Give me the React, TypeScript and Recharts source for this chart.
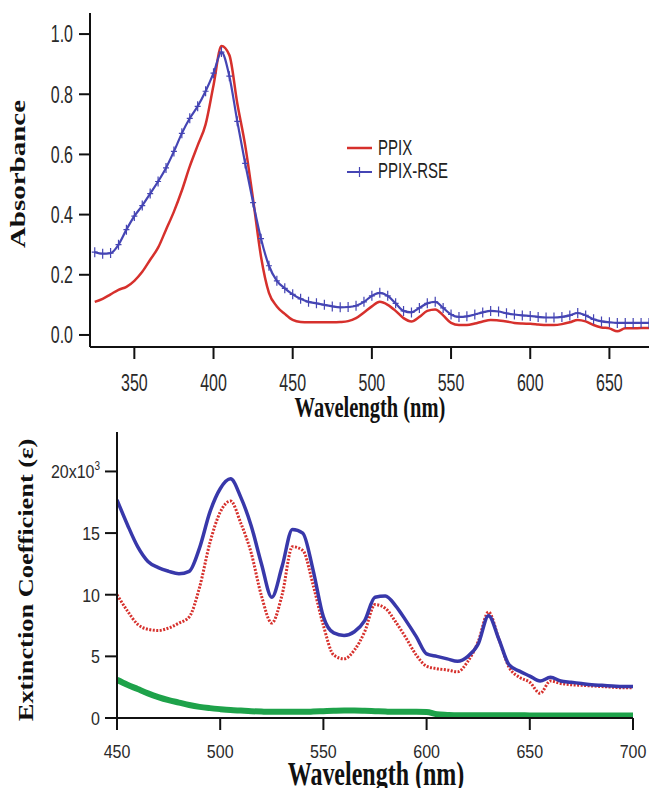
import { LineChart, Line, XAxis, YAxis, Legend, Label } from "recharts";

// top panel: absorbance spectra
const topWavelengths = [
  325, 330, 335, 340, 345, 350, 355, 360, 365, 370, 375, 380, 385, 390, 395, 400,
  405, 410, 415, 420, 425, 430, 435, 440, 445, 450, 455, 460, 465, 470, 475, 480,
  485, 490, 495, 500, 505, 510, 515, 520, 525, 530, 535, 540, 545, 550, 555, 560,
  565, 570, 575, 580, 585, 590, 595, 600, 605, 610, 615, 620, 625, 630, 635, 640,
  645, 650, 655, 660, 665, 670, 675,
];
const ppixAbs = [
  0.11, 0.12, 0.135, 0.15, 0.16, 0.18, 0.21, 0.25, 0.29, 0.35, 0.41, 0.48, 0.56, 0.63, 0.7, 0.83,
  0.96, 0.93, 0.77, 0.63, 0.45, 0.26, 0.14, 0.095, 0.07, 0.05, 0.043, 0.042, 0.042, 0.042, 0.042, 0.043,
  0.046, 0.056, 0.075, 0.095, 0.11, 0.1, 0.08, 0.056, 0.045, 0.06, 0.08, 0.085, 0.065, 0.04, 0.033, 0.033,
  0.038, 0.045, 0.05, 0.048, 0.045, 0.04, 0.038, 0.037, 0.035, 0.033, 0.033, 0.036, 0.042, 0.05, 0.045, 0.033,
  0.025, 0.022, 0.012, 0.022, 0.022, 0.023, 0.023,
];
const ppixRseAbs = [
  0.275, 0.27, 0.272, 0.3, 0.35, 0.395, 0.43, 0.47, 0.51, 0.555, 0.61, 0.67, 0.72, 0.76, 0.81, 0.87,
  0.94, 0.86, 0.71, 0.57, 0.44, 0.32, 0.23, 0.18, 0.155, 0.135, 0.12, 0.11, 0.105, 0.1, 0.095, 0.092,
  0.093, 0.097, 0.11, 0.13, 0.14, 0.13, 0.105, 0.08, 0.075, 0.09, 0.105, 0.11, 0.09, 0.068, 0.06, 0.062,
  0.068, 0.075, 0.08, 0.078, 0.072, 0.068, 0.065, 0.063, 0.06, 0.058, 0.058, 0.06, 0.065, 0.073, 0.065, 0.052,
  0.045, 0.042, 0.04, 0.04, 0.04, 0.04, 0.04,
];
const topXTicks = [350, 400, 450, 500, 550, 600, 650];
const topYTicks = [0, 0.2, 0.4, 0.6, 0.8, 1.0];

// bottom panel: extinction coefficient (x10^3)
const bottomWavelengths = [
  450, 455, 460, 465, 470, 475, 480, 485, 490, 495, 500, 505, 510, 515, 520, 525,
  530, 535, 540, 545, 550, 555, 560, 565, 570, 575, 580, 585, 590, 595, 600, 605,
  610, 615, 620, 625, 630, 635, 640, 645, 650, 655, 660, 665, 670, 675, 680, 685,
  690, 695, 700,
];
const rseComplexEps = [
  17.7, 15.7, 13.9, 12.7, 12.2, 11.9, 11.7, 11.9, 13.8, 16.7, 18.6, 19.4, 17.9, 15.6, 12.5, 9.8,
  12.3, 15.3, 15.0, 12.0, 8.2, 6.9, 6.7, 7.0, 7.9, 9.8, 9.9, 9.1, 7.9, 6.6, 5.2, 5.0,
  4.8, 4.6, 5.0, 6.0, 8.3, 6.4, 4.3, 3.8, 3.4, 3.0, 3.3, 3.0, 2.9, 2.8, 2.7, 2.65,
  2.6, 2.55, 2.55,
];
const ppixEps = [
  10.0, 8.7, 7.6, 7.2, 7.1, 7.3, 7.7, 8.2, 10.6, 14.2, 16.7, 17.6, 15.8, 13.4, 9.9, 7.7,
  10.0, 13.9, 13.6, 10.8, 7.5, 5.1, 4.8, 5.5, 7.0, 9.2, 8.9, 7.8, 6.5, 5.1, 4.2, 4.0,
  3.9, 3.75, 4.6, 6.2, 8.6, 6.4, 4.1, 3.3, 2.9, 2.0, 3.0, 2.8, 2.7, 2.65, 2.6, 2.55,
  2.5, 2.45, 2.45,
];
const rseEps = [
  3.1, 2.7, 2.35, 2.0, 1.7, 1.45, 1.25, 1.05, 0.9, 0.8, 0.72, 0.65, 0.6, 0.55, 0.52, 0.5,
  0.5, 0.5, 0.5, 0.52, 0.55, 0.58, 0.6, 0.6, 0.58, 0.55, 0.52, 0.5, 0.5, 0.5, 0.48, 0.3,
  0.25, 0.22, 0.22, 0.22, 0.22, 0.22, 0.22, 0.22, 0.21, 0.21, 0.21, 0.21, 0.2, 0.2, 0.2, 0.2,
  0.2, 0.2, 0.2,
];
const bottomXTicks = [450, 500, 550, 600, 650, 700];
const bottomYTicks = [0, 5, 10, 15, 20];

const topData = topWavelengths.map((w, i) => ({ w, ppix: ppixAbs[i], rse: ppixRseAbs[i] }));
const bottomData = bottomWavelengths.map((w, i) => ({
  w,
  complex: rseComplexEps[i],
  ppix: ppixEps[i],
  rse: rseEps[i],
}));

const RED = "#d6302c";
const BLUE = "#4545b4";
const DEEP_BLUE = "#3838aa";
const GREEN = "#1ea24a";
const SANS = "'Liberation Sans', Arial, sans-serif";
const SERIF = "'Liberation Serif', 'Times New Roman', serif";

const axisLine = { stroke: "#111", strokeWidth: 2 };
const tickLine = { stroke: "#111", strokeWidth: 2 };

// tick text is drawn stretched vertically, like the scanned figure
const TickText = ({ x, y, sy, dx, dy, anchor, children }: any) => (
  <g transform={`translate(${x},${y}) scale(1,${sy})`}>
    <text x={dx} y={dy} textAnchor={anchor} fontFamily={SANS} fontSize={16} fill="#2a2a2a">
      {children}
    </text>
  </g>
);

const topXTick = (p: any) => (
  <TickText x={p.x} y={p.y} sy={1.45} dx={0} dy={20.7} anchor="middle">
    {p.payload.value}
  </TickText>
);
const topYTick = (p: any) => (
  <TickText x={p.x} y={p.y} sy={1.45} dx={-2} dy={5.7} anchor="end">
    {Number(p.payload.value).toFixed(1)}
  </TickText>
);
const bottomXTick = (p: any) => (
  <TickText x={p.x} y={p.y} sy={1.2} dx={0} dy={22} anchor="middle">
    {p.payload.value}
  </TickText>
);
const bottomYTick = (p: any) => (
  <TickText x={p.x} y={p.y} sy={1.2} dx={-2} dy={5.7} anchor="end">
    {p.payload.value === 20 ? (
      <>
        20x10
        <tspan fontSize={10} dy={-7}>
          3
        </tspan>
      </>
    ) : (
      p.payload.value
    )}
  </TickText>
);

const PlusDot = (props: any) => {
  const { cx, cy, index } = props;
  if (cx == null || cy == null) return <g key={`p-${index}`} />;
  return (
    <path
      key={`p-${index}`}
      d={`M${cx - 3},${cy}h6M${cx},${cy - 5}v10`}
      stroke={BLUE}
      strokeWidth={1.2}
      fill="none"
    />
  );
};

const TopLegend = () => (
  <svg width={130} height={52}>
    <line x1={2} x2={27} y1={13} y2={13} stroke={RED} strokeWidth={2.5} />
    <g transform="translate(33,20) scale(1,1.45)">
      <text fontFamily={SANS} fontSize={15} fill="#222">PPIX</text>
    </g>
    <line x1={2} x2={27} y1={37} y2={37} stroke={BLUE} strokeWidth={2} />
    <path d="M11.5,37h6M14.5,32v10" stroke={BLUE} strokeWidth={1.2} />
    <g transform="translate(33,43) scale(1,1.45)">
      <text fontFamily={SANS} fontSize={15} fill="#222">PPIX-RSE</text>
    </g>
  </svg>
);

const App = () => {
  return (
    <div style={{ position: "absolute", left: 0, top: 0, width: 649, height: 788, background: "#fff" }}>
      <div style={{ position: "absolute", left: 0, top: 0 }}>
        <LineChart width={649} height={430} data={topData} margin={{ top: 13, right: 0, bottom: 13, left: 0 }}>
          <XAxis
            dataKey="w"
            type="number"
            domain={[322, 675]}
            ticks={topXTicks}
            interval={0}
            allowDataOverflow
            height={70}
            axisLine={axisLine}
            tickLine={tickLine}
            tickSize={12}
            tickMargin={2}
            tick={topXTick}
          >
            <Label
              content={() => (
                <g transform="translate(370,417) scale(1,1.45)">
                  <text textAnchor="middle" fontFamily={SERIF} fontWeight="bold" fontSize={20.5} fill="#111">
                    Wavelength (nm)
                  </text>
                </g>
              )}
            />
          </XAxis>
          <YAxis
            type="number"
            domain={[-0.04, 1.07]}
            ticks={topYTicks}
            interval={0}
            allowDataOverflow
            width={90}
            axisLine={axisLine}
            tickLine={tickLine}
            tickSize={11}
            tickMargin={4}
            tick={topYTick}
          >
            <Label
              content={() => (
                <g transform="translate(25,174) rotate(-90) scale(1.45,1)">
                  <text textAnchor="middle" fontFamily={SERIF} fontWeight="bold" fontSize={20} fill="#111">
                    Absorbance
                  </text>
                </g>
              )}
            />
          </YAxis>
          <Legend
            layout="vertical"
            align="center"
            verticalAlign="middle"
            content={() => <TopLegend />}
            wrapperStyle={{ position: "absolute", left: 345, top: 135, width: 130, height: 52 }}
          />
          <Line
            name="PPIX"
            dataKey="ppix"
            stroke={RED}
            strokeWidth={2.5}
            dot={false}
            activeDot={false}
            type="monotone"
            isAnimationActive={false}
          />
          <Line
            name="PPIX-RSE"
            dataKey="rse"
            stroke={BLUE}
            strokeWidth={2.2}
            dot={PlusDot}
            activeDot={false}
            type="monotone"
            isAnimationActive={false}
          />
        </LineChart>
      </div>

      <div style={{ position: "absolute", left: 0, top: 420 }}>
        <LineChart width={649} height={368} data={bottomData} margin={{ top: 12, right: 16, bottom: 0, left: 0 }}>
          <XAxis
            dataKey="w"
            type="number"
            domain={[450, 700]}
            ticks={bottomXTicks}
            interval={0}
            allowDataOverflow
            height={70}
            axisLine={axisLine}
            tickLine={tickLine}
            tickSize={12}
            tickMargin={2}
            tick={bottomXTick}
          >
            <Label
              content={() => (
                <g transform="translate(376,365) scale(1,1.36)">
                  <text textAnchor="middle" fontFamily={SERIF} fontWeight="bold" fontSize={24} fill="#111">
                    Wavelength (nm)
                  </text>
                </g>
              )}
            />
          </XAxis>
          <YAxis
            type="number"
            domain={[0, 23.2]}
            ticks={bottomYTicks}
            interval={0}
            allowDataOverflow
            width={117}
            axisLine={axisLine}
            tickLine={tickLine}
            tickSize={12}
            tickMargin={3}
            tick={bottomYTick}
          >
            <Label
              content={() => (
                <g transform="translate(33,160) rotate(-90) scale(1.2,1)">
                  <text textAnchor="middle" fontFamily={SERIF} fontWeight="bold" fontSize={22} fill="#111">
                    Extinction Coefficient (ε)
                  </text>
                </g>
              )}
            />
          </YAxis>
          <Line
            dataKey="rse"
            stroke={GREEN}
            strokeWidth={6}
            dot={false}
            activeDot={false}
            type="monotone"
            isAnimationActive={false}
          />
          <Line
            dataKey="ppix"
            stroke={RED}
            strokeWidth={3}
            strokeDasharray="2 1.5"
            dot={false}
            activeDot={false}
            type="monotone"
            isAnimationActive={false}
          />
          <Line
            dataKey="complex"
            stroke={DEEP_BLUE}
            strokeWidth={3.5}
            dot={false}
            activeDot={false}
            type="monotone"
            isAnimationActive={false}
          />
        </LineChart>
      </div>
    </div>
  );
};

export default App;
